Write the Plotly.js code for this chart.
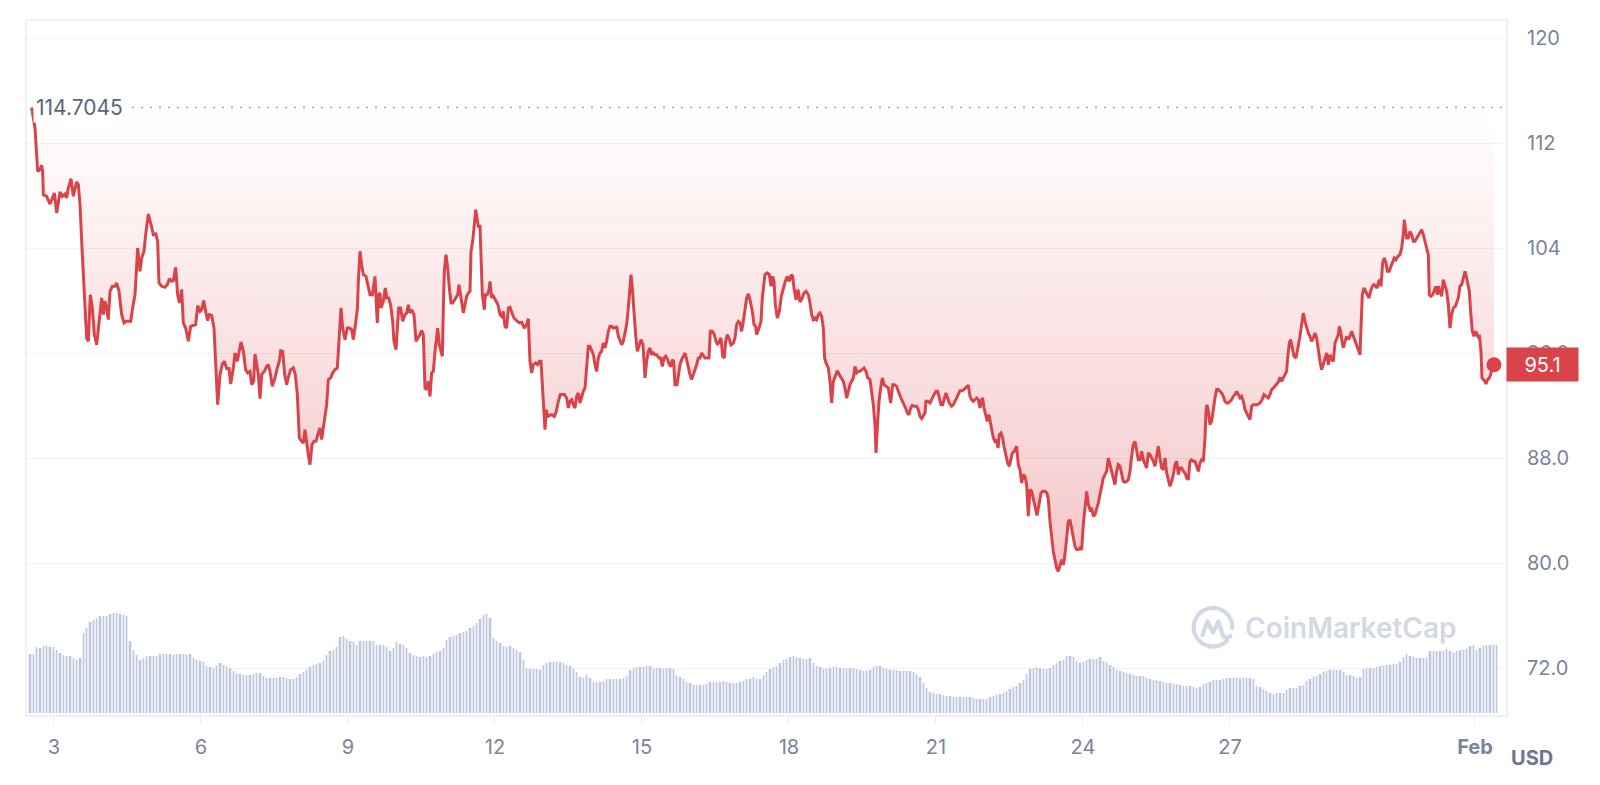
<!DOCTYPE html>
<html><head><meta charset="utf-8">
<script src="https://cdn.plot.ly/plotly-3.0.1.min.js"></script>
<style>html,body{margin:0;padding:0;background:#fff;}#chart{width:1600px;height:785px;}</style>
</head><body><div id="chart"></div>
<script>
// hours are counted from 2 Jan 00:00
const baseDate = Date.UTC(2025, 0, 2);
const refPrice = 114.7045;

const priceHours = [
13.07,14.70,16.00,17.15,17.96,18.45,18.78,20.41,22.05,23.68,24.17,25.31,26.13,26.94,28.09,29.39,30.21,31.03,32.33,33.47,34.29,35.11,35.92,36.74,37.88,39.19,40.00,40.82,41.80,42.78,43.76,44.90,46.05,47.35,48.17,48.98,49.80,50.62,51.43,52.58,53.88,54.70,55.84,57.15,58.29,59.27,60.41,61.56,62.37,63.68,64.99,66.13,66.94,68.09,68.90,70.21,71.52,72.66,73.80,74.78,75.43,76.74,78.37,79.68,80.50,81.64,82.45,83.60,84.58,85.39,86.54,87.35,88.49,89.80,90.94,92.25,93.39,94.37,95.52,96.33,97.31,98.29,99.27,100.09,101.23,102.37,103.19,104.17,105.31,106.46,107.44,108.58,109.72,110.54,111.84,112.66,113.80,114.62,115.60,116.74,117.88,118.86,120.01,120.82,121.80,122.46,123.27,124.09,124.90,125.72,127.03,128.17,128.99,129.80,130.95,
132.25,133.39,134.37,135.02,136.00,136.98,137.96,138.78,139.92,141.23,142.21,143.19,144.17,145.31,146.13,146.94,147.76,148.58,149.39,150.37,151.35,152.33,153.47,154.29,155.11,155.92,156.74,157.56,158.37,159.52,160.49,161.64,162.78,163.43,163.76,164.58,165.39,166.54,167.68,168.66,169.80,170.62,171.43,172.58,173.07,173.88,174.70,175.52,176.82,177.96,178.78,179.92,180.74,181.23,182.05,182.37,183.03,183.68,184.17,185.31,186.29,186.94,187.92,188.90,189.88,190.53,191.52,192.17,192.82,193.80,194.78,195.92,196.74,197.56,198.37,199.19,200.33,201.31,202.45,203.27,204.09,204.90,205.72,206.54,207.35,208.17,208.99,209.80,210.62,211.44,211.92,212.74,213.39,214.21,214.70,215.19,216.01,216.82,217.64,218.46,219.27,220.09,220.90,221.72,222.37,223.19,223.84,224.50,225.31,226.13,226.95,227.76,228.25,229.07,229.72,230.54,231.19,231.84,232.66,233.15,233.80,234.78,235.27,236.25,237.07,237.56,238.37,238.86,239.84,240.82,241.48,242.13,242.46,243.27,244.09,244.90,245.72,246.54,247.36,248.33,249.31,250.62,251.92,
253.07,254.37,255.51,256.33,257.15,257.96,258.78,259.92,260.90,261.72,262.53,263.19,263.84,264.49,265.15,265.80,266.78,267.76,269.07,270.05,271.03,272.00,272.98,273.96,275.11,275.92,276.74,277.56,278.37,279.19,280.00,280.82,281.64,282.45,283.27,284.09,284.90,285.72,286.54,287.35,288.17,289.31,289.80,290.62,291.43,292.25,293.07,293.88,294.70,295.52,296.33,297.15,297.96,298.78,299.60,300.41,301.23,302.05,302.86,303.68,304.50,305.31,305.80,306.62,307.27,308.09,308.90,309.72,310.54,311.52,312.50,313.48,314.29,315.11,315.92,316.74,317.56,318.37,319.19,320.33,321.15,321.96,322.78,323.60,324.58,325.39,326.21,326.86,327.52,328.17,329.15,329.80,330.62,331.44,332.25,333.07,333.88,334.70,335.52,336.33,337.15,337.97,338.78,339.60,340.41,341.23,342.05,342.86,344.00,344.82,345.48,346.46,347.44,348.25,349.07,349.89,350.70,351.52,352.33,352.99,353.80,354.62,355.60,356.74,357.56,358.37,359.19,360.01,360.82,361.64,362.46,363.27,364.09,364.91,366.05,366.87,367.68,368.17,369.31,370.29,370.94,371.60,372.25,
373.39,374.37,375.19,376.00,376.66,377.31,378.29,379.27,380.25,381.23,382.21,383.19,384.17,385.15,385.80,386.45,387.43,388.41,389.39,390.37,391.35,392.33,393.47,394.29,395.11,395.92,396.74,397.56,398.37,399.19,400.00,400.82,401.47,402.13,403.27,404.09,404.90,405.72,406.54,407.68,408.66,409.80,410.62,411.43,412.25,413.07,413.88,414.70,415.52,416.33,417.15,417.96,418.78,419.76,420.74,421.72,422.54,423.68,424.50,425.31,426.13,426.62,427.27,428.09,428.90,429.72,430.54,431.52,432.66,433.80,434.78,435.60,436.74,437.56,438.37,439.19,440.33,441.15,441.96,442.78,443.60,444.41,445.39,446.54,447.35,448.17,448.99,449.80,450.62,451.11,451.92,453.07,454.05,455.03,456.01,456.82,457.64,458.46,459.27,460.09,460.90,461.72,462.54,463.68,464.50,465.31,466.13,466.95,467.76,468.74,469.72,470.70,471.84,472.66,473.48,474.29,475.11,475.93,476.74,477.56,478.37,478.86,479.52,480.33,481.15,481.97,482.78,483.27,484.09,484.91,485.72,486.38,487.03,487.85,488.66,489.48,490.29,491.11,491.93,
492.41,493.39,494.37,495.51,496.33,497.15,497.96,498.78,499.60,500.41,501.23,502.05,502.86,503.68,504.49,505.47,506.45,507.43,508.25,509.39,510.37,511.03,511.84,512.66,513.47,514.29,515.11,515.92,516.74,517.56,518.37,518.86,519.52,520.17,520.82,521.64,522.45,523.27,524.09,524.90,525.72,526.54,527.35,528.17,528.98,529.80,530.62,531.43,532.25,533.07,533.88,534.70,535.52,536.33,537.15,537.96,538.78,539.60,540.41,541.23,542.05,542.86,543.68,544.50,545.31,546.13,546.94,547.76,548.58,549.39,550.21,551.03,551.84,552.66,553.48,554.29,555.11,555.92,556.74,557.56,558.37,559.19,560.01,560.82,561.64,562.46,563.27,564.09,564.90,565.72,566.54,567.35,568.17,568.99,569.80,570.62,571.44,572.25,573.07,573.88,574.70,575.52,576.33,577.15,577.97,578.78,579.60,580.41,581.23,582.05,582.86,583.68,584.50,585.31,586.13,586.95,587.76,588.25,588.74,589.40,590.21,591.03,591.84,592.66,593.48,594.29,595.11,595.93,596.74,597.56,598.37,599.19,600.01,600.82,601.64,602.46,603.27,604.09,604.91,605.72,606.54,607.36,608.17,608.99,609.80,610.62,611.44,
613.39,614.70,615.68,616.66,617.64,618.78,619.60,620.41,621.56,622.53,623.68,624.49,625.31,626.13,626.94,627.76,628.25,629.07,629.72,630.37,631.35,632.33,633.31,634.29,635.11,635.92,636.74,637.56,638.37,639.19,640.00,640.82,641.64,642.45,643.27,644.09,644.90,645.72,646.54,647.35,648.17,648.98,649.80,650.62,651.43,652.25,653.07,653.56,654.21,654.86,655.52,656.33,657.15,657.96,658.78,659.60,660.41,661.23,662.05,662.86,663.68,664.17,664.82,665.64,666.45,667.27,668.09,668.90,669.72,670.54,671.35,672.01,672.82,673.48,673.97,674.78,675.60,676.41,677.07,678.05,678.86,679.68,680.50,681.31,682.29,683.27,684.09,684.90,685.39,685.88,686.54,687.35,688.17,688.99,689.80,690.62,691.44,692.25,693.07,693.88,694.70,695.52,696.33,697.15,697.64,698.46,699.27,700.09,700.90,701.56,702.21,702.86,703.68,704.50,705.31,706.13,706.95,707.76,708.58,709.40,710.37,711.03,711.84,712.66,713.48,714.29,715.11,715.93,716.74,717.23,717.88,718.70,719.52,720.17,720.82,721.64,722.13,722.95,723.44,724.09,724.91,725.40,726.21,727.03,727.68,728.66,729.31
];
const priceUsd = [
114.70,113.14,109.84,109.97,110.30,109.79,108.06,107.94,107.35,108.06,108.19,106.67,107.56,108.27,107.94,108.11,107.81,108.57,109.28,107.94,108.52,109.03,108.83,107.30,103.49,99.94,97.14,96.89,100.44,99.43,97.40,96.63,98.41,100.19,98.92,99.94,99.43,98.54,100.70,101.08,101.08,101.33,100.70,98.92,98.29,98.41,98.41,98.41,99.30,100.44,104.00,102.22,103.24,103.75,105.02,106.59,105.78,105.02,105.07,104.51,101.33,101.08,101.00,101.26,101.66,101.46,101.51,102.53,100.44,99.81,100.83,98.29,97.90,96.89,98.03,98.11,98.16,99.61,99.17,99.30,99.99,99.17,98.46,98.92,98.87,97.90,95.62,92.06,94.35,95.16,95.37,94.81,94.81,93.64,94.86,96.00,95.37,96.13,96.84,96.13,94.73,94.48,94.60,93.59,93.84,95.92,95.11,94.35,92.52,94.35,94.60,94.98,95.11,94.60,93.46,
94.10,94.86,95.37,96.18,96.13,94.35,93.59,94.15,94.73,94.86,94.35,92.83,89.52,89.27,89.14,90.16,89.02,88.25,87.49,89.02,89.27,89.27,89.90,90.29,89.40,90.41,91.30,92.06,93.97,94.10,94.48,94.73,94.86,96.63,98.16,99.43,97.90,97.02,97.90,97.90,97.78,97.02,97.90,99.30,101.46,103.75,102.73,101.97,101.84,100.95,100.44,100.44,101.46,101.84,99.17,98.29,100.44,100.57,99.43,99.94,100.95,100.19,100.19,99.68,98.41,96.89,96.25,97.90,99.43,99.43,98.41,98.92,99.05,99.68,99.05,99.30,98.92,96.89,97.14,97.40,97.70,97.40,93.33,93.21,93.84,92.70,94.48,94.60,96.13,97.40,97.90,96.63,96.13,95.75,99.43,102.22,103.49,102.48,100.95,99.81,99.81,100.06,100.19,100.44,101.21,100.32,99.43,99.05,99.68,100.32,100.57,100.70,103.75,104.51,105.52,106.92,106.29,105.65,105.65,103.75,100.44,99.30,100.44,100.44,100.83,101.46,100.19,100.44,100.19,99.94,99.68,99.17,98.92,98.79,99.17,98.03,97.90,99.43,99.48,99.05,98.67,98.46,98.29,
98.34,97.90,98.16,98.62,95.37,94.48,95.11,95.24,95.11,95.37,95.37,93.33,91.30,90.16,91.68,91.17,91.25,91.30,91.17,91.56,92.32,92.83,92.83,92.83,92.57,91.81,92.32,92.44,92.06,91.81,92.70,92.95,92.19,92.70,93.08,93.33,94.86,96.51,96.51,96.25,95.87,94.86,94.60,95.62,96.00,96.13,96.76,96.38,96.89,97.65,98.03,98.03,97.90,97.90,98.03,97.27,96.89,96.63,96.89,97.65,98.16,99.43,100.70,101.97,100.95,98.92,97.40,96.13,96.51,97.02,96.63,94.10,95.37,96.13,96.38,95.87,96.00,95.87,95.87,95.62,95.62,94.98,95.62,95.75,95.49,95.11,94.98,95.49,95.37,93.59,93.59,94.35,95.11,95.49,95.75,96.00,95.49,94.86,94.35,93.97,94.35,94.60,95.11,95.62,95.62,96.00,95.75,95.62,95.62,95.62,97.65,97.65,97.40,96.89,96.63,96.89,97.14,95.75,95.62,96.89,97.40,97.14,96.63,96.76,97.14,98.16,98.41,98.29,97.65,98.41,99.43,100.19,100.50,100.06,99.17,98.16,98.03,97.40,97.90,98.41,100.19,101.21,101.97,
102.10,101.97,101.08,101.84,101.46,99.68,98.67,99.17,100.32,100.95,101.46,101.84,101.46,101.97,101.84,100.95,100.06,100.83,99.89,100.14,100.57,100.70,100.44,99.81,98.92,98.54,98.67,98.54,98.92,99.05,98.79,97.90,95.62,95.24,94.86,93.84,92.19,93.84,94.22,94.65,94.35,94.10,93.84,93.33,92.57,93.08,93.59,93.84,94.10,94.98,94.48,94.60,94.60,94.73,94.86,94.60,94.10,93.97,93.08,92.06,90.54,88.38,90.29,92.32,93.33,94.10,93.59,93.46,93.33,92.19,93.59,93.59,93.46,93.08,92.70,92.44,92.06,91.81,91.43,91.30,91.81,92.01,91.94,91.94,91.68,91.17,91.00,91.17,91.43,92.32,92.32,92.19,92.57,92.83,93.08,93.08,92.57,92.06,92.06,92.57,92.95,92.57,92.19,91.94,92.06,92.32,92.57,92.83,93.13,93.13,93.21,93.38,93.54,92.70,92.44,92.32,92.44,92.57,92.44,91.81,92.44,92.57,91.81,91.30,90.79,91.30,90.54,90.03,89.52,89.27,89.40,88.76,89.78,89.90,89.52,88.76,88.13,87.62,87.37,
87.75,88.38,88.51,88.89,87.49,87.11,86.10,86.73,86.60,85.97,83.56,85.59,85.46,84.82,84.19,83.63,84.44,85.33,85.46,85.46,85.33,84.82,83.17,81.90,80.88,80.25,79.62,79.36,79.87,80.25,79.87,80.25,81.14,82.41,83.17,83.30,82.67,81.90,81.27,81.02,81.02,81.14,81.02,82.92,84.44,85.46,84.44,84.06,84.19,83.56,83.68,84.06,84.57,85.21,85.97,86.48,86.73,86.98,88.00,87.49,86.86,86.48,85.97,86.98,87.49,87.37,86.86,86.22,86.17,86.22,86.35,86.98,88.13,89.02,89.27,88.51,87.87,87.87,88.51,87.87,87.49,87.24,88.38,88.25,88.00,87.75,87.37,88.00,88.89,88.00,87.24,87.11,88.00,86.86,86.22,85.84,86.22,86.73,87.49,87.75,86.73,87.24,87.24,86.98,86.86,86.48,86.35,87.75,87.87,87.75,87.75,87.37,86.98,87.62,87.87,87.75,89.52,91.56,92.06,91.56,90.54,90.79,91.81,92.57,93.21,93.21,93.08,92.95,92.70,92.32,92.19,92.19,92.32,92.44,92.70,92.83,93.08,92.83,92.57,92.70,92.32,91.68,91.43,91.17,90.92,91.94,92.06,
92.06,92.19,92.44,92.83,92.70,92.57,92.83,93.21,93.38,93.59,93.79,94.15,93.84,94.10,94.40,94.60,95.62,96.76,97.02,96.38,95.75,95.62,96.38,97.27,98.16,99.05,98.41,97.90,97.52,97.27,96.89,97.14,97.52,97.14,96.13,95.37,94.73,95.11,95.62,96.00,95.11,95.87,95.49,95.37,96.76,97.02,97.40,98.03,97.65,96.89,96.38,96.89,97.27,97.02,97.27,97.65,97.27,96.89,96.51,96.13,95.87,97.90,100.44,100.95,100.70,100.44,100.19,100.70,101.08,101.21,101.08,100.95,101.46,101.59,101.08,102.86,103.24,102.86,102.22,102.22,102.60,102.86,103.24,103.11,103.37,103.49,104.00,105.02,106.16,105.52,104.76,104.76,105.27,105.02,104.51,104.51,104.76,105.02,105.27,105.40,105.02,104.51,103.87,103.49,100.44,100.32,100.44,100.83,101.08,100.44,101.08,100.70,100.32,101.59,101.21,100.70,99.68,97.90,98.92,99.43,99.56,99.81,100.19,101.08,101.21,101.71,102.22,101.71,100.95,100.70,99.17,97.65,97.27,97.65,97.52,97.14,97.40,96.13,94.10,93.97,93.84,93.64,93.97,94.10,94.35,95.11,95.10
];

// trading volume (relative units), one bar per step
const volStartHour = 12.24;
const volStepHours = 1.6327;
const volume = [
59,59,66,65,67,67,66,66,63,60,58,57,57,55,53,55,80,85,91,93,95,97,97,97,99,100,100,99,98,97,72,63,58,53,55,57,57,57,57,59,59,59,59,58,59,59,59,58,59,55,53,52,51,47,46,45,47,50,48,47,45,42,40,39,38,38,38,39,40,40,37,35,35,35,35,36,36,35,34,34,36,39,41,43,46,48,49,50,52,58,62,63,66,76,77,74,72,71,68,72,72,72,72,72,68,68,68,66,62,65,71,69,68,65,60,58,57,56,57,56,57,59,61,62,65,73,76,77,78,80,81,82,85,87,90,94,98,99,95,75,72,70,
67,66,67,65,63,61,53,45,44,44,44,43,48,50,51,51,51,51,50,48,47,45,41,36,35,38,35,31,31,31,32,34,34,34,34,34,35,37,43,45,46,46,46,47,47,45,45,45,44,45,45,44,38,36,34,31,30,28,28,28,28,29,31,31,31,31,32,31,30,30,30,31,32,34,34,36,34,34,38,41,44,46,47,50,53,54,56,57,56,55,54,54,55,50,47,46,44,44,45,46,46,45,44,45,45,45,44,43,42,42,43,46,47,47,45,44,43,43,43,42,42,42,42,41,39,36,30,25,21,20,19,19,18,17,17,16,16,16,16,16,16,15,14,14,14,14,16,17,18,19,
20,22,24,26,27,30,33,39,44,45,46,45,44,44,45,48,50,52,53,57,57,56,52,50,51,53,54,54,54,56,52,51,48,46,43,42,41,40,39,38,37,37,37,35,34,33,33,32,31,30,30,29,29,28,27,27,27,26,25,26,29,30,31,33,33,33,34,35,35,35,35,35,35,35,35,34,27,26,24,22,20,19,20,20,20,23,25,25,25,27,28,32,34,36,37,39,41,42,43,43,43,43,41,38,38,37,35,36,44,45,45,45,46,47,47,48,48,49,49,51,56,59,57,56,55,55,55,55,62,62,62,62,62,64,62,60,62,63,63,64,67,68,63,65,67,68,68,68,68
];

const tickDates = ['2025-01-03','2025-01-06','2025-01-09','2025-01-12','2025-01-15','2025-01-18','2025-01-21','2025-01-24','2025-01-27','2025-02-01'];
const tickLabels = ['3','6','9','12','15','18','21','24','27','<b>Feb</b>'];
const priceTickVals = [72, 80, 88, 96, 104, 112, 120];
const priceTickText = ['72.0', '80.0', '88.0', '96.0', '104', '112', '120'];

function ts(h) {
  const d = new Date(baseDate + h * 3600000);
  const p = n => String(n).padStart(2, '0');
  return d.getUTCFullYear() + '-' + p(d.getUTCMonth() + 1) + '-' + p(d.getUTCDate()) + ' ' +
    p(d.getUTCHours()) + ':' + p(d.getUTCMinutes()) + ':' + p(d.getUTCSeconds());
}

const RED = '#d9434a';
const priceX = priceHours.map(ts);
const volX = volume.map((v, i) => ts(volStartHour + i * volStepHours));
const barMs = volStepHours * 3600000;
const lastX = priceX[priceX.length - 1];
const lastY = priceUsd[priceUsd.length - 1];

const traces = [
  { type: 'bar', x: volX, y: volume, yaxis: 'y2', width: barMs, marker: { color: '#e9ecf3', line: { width: 0 } }, hoverinfo: 'skip', showlegend: false },
  { type: 'bar', x: volX, y: volume, yaxis: 'y2', width: barMs * 0.32, marker: { color: '#bfc7dc', line: { width: 0 } }, hoverinfo: 'skip', showlegend: false },
  { type: 'scatter', mode: 'lines', x: [priceX[0], lastX], y: [refPrice, refPrice], line: { width: 0, color: 'rgba(0,0,0,0)' }, hoverinfo: 'skip', showlegend: false },
  { type: 'scatter', mode: 'lines', x: priceX, y: priceUsd, fill: 'tonexty',
    fillgradient: { type: 'vertical', start: 79.3, stop: refPrice,
      colorscale: [[0, 'rgba(220,62,68,0.29)'], [0.5, 'rgba(220,62,68,0.15)'], [1, 'rgba(220,62,68,0.0)']] },
    line: { color: RED, width: 3, shape: 'linear' }, hoverinfo: 'skip', showlegend: false },
  { type: 'scatter', mode: 'markers', x: [lastX], y: [lastY], marker: { color: RED, size: 15 }, hoverinfo: 'skip', showlegend: false }
];

const L = 27, R = 1506, T = 21, B = 715;
const px = x => (x - L) / (R - L);
const py = y => (B - y) / (B - T);

const logoSvg = "<svg xmlns='http://www.w3.org/2000/svg' viewBox='0 0 100 100'><g fill='none' stroke='#d3d8e5' stroke-width='9' stroke-linecap='round' stroke-linejoin='round'><path d='M80 80 A42 42 0 1 1 92 52'/><path d='M27 68 L38 38 L50 62 L62 38 L70 64 Q75 78 88 70'/></g></svg>";

const layout = {
  width: 1600, height: 785,
  margin: { l: L, r: 1600 - R, t: T, b: 785 - B, pad: 0 },
  paper_bgcolor: '#ffffff', plot_bgcolor: '#ffffff',
  font: { family: 'Inter, "Noto Sans", sans-serif', color: '#707b93' },
  showlegend: false,
  barmode: 'overlay', bargap: 0,
  xaxis: {
    type: 'date', range: [ts(10.78), ts(735.2)],
    tickvals: tickDates, ticktext: tickLabels,
    showgrid: false, zeroline: false,
    showline: true, mirror: true, linecolor: '#eef0f4', linewidth: 2,
    ticks: 'outside', ticklen: 6, tickwidth: 1, tickcolor: '#e8ebf1',
    ticklabelstandoff: 7,
    tickfont: { size: 20, color: '#7a849a' }, fixedrange: true
  },
  yaxis: {
    side: 'right', range: [68.419, 121.295],
    tickvals: priceTickVals, ticktext: priceTickText,
    showgrid: true, gridcolor: '#f1f2f6', gridwidth: 1, zeroline: false,
    showline: true, mirror: true, linecolor: '#eef0f4', linewidth: 2,
    ticks: '', ticklabelstandoff: 15,
    tickfont: { size: 20, color: '#7a849a' }, fixedrange: true
  },
  yaxis2: { overlaying: 'y', side: 'left', range: [-2, 692], visible: false, fixedrange: true },
  shapes: [
    { type: 'line', layer: 'below', xref: 'paper', yref: 'y', x0: px(132), x1: 1, y0: refPrice, y1: refPrice,
      line: { color: '#9ea6b8', width: 1.6, dash: '2px,7px' } }
  ],
  images: [
    { source: 'data:image/svg+xml;utf8,' + encodeURIComponent(logoSvg), xref: 'paper', yref: 'paper',
      x: px(1190), y: py(604), sizex: px(1236) - px(1190), sizey: py(604) - py(650),
      xanchor: 'left', yanchor: 'top', sizing: 'stretch', layer: 'above' }
  ],
  annotations: [
    { xref: 'paper', yref: 'y', x: px(33), y: refPrice, xanchor: 'left', yanchor: 'middle',
      text: String(refPrice), showarrow: false, bgcolor: '#ffffff', borderpad: 2,
      font: { size: 21, color: '#58667e' } },
    { xref: 'paper', yref: 'y', x: 1, y: lastY, xanchor: 'left', yanchor: 'middle',
      text: lastY.toFixed(1), showarrow: false, bgcolor: RED, borderpad: 2, width: 67, height: 29, align: 'center',
      font: { size: 20, color: '#ffffff' } },
    { xref: 'paper', yref: 'paper', x: px(1532), y: py(758), xanchor: 'center', yanchor: 'middle',
      text: '<b>USD</b>', showarrow: false, font: { size: 20, color: '#6b7690' } },
    { xref: 'paper', yref: 'paper', x: px(1351), y: py(628), xanchor: 'center', yanchor: 'middle',
      text: 'CoinMarketCap', showarrow: false, font: { size: 28, color: '#d3d8e5', weight: 600 } }
  ]
};

Plotly.newPlot('chart', traces, layout, { staticPlot: true, displayModeBar: false });
</script>
</body></html>
